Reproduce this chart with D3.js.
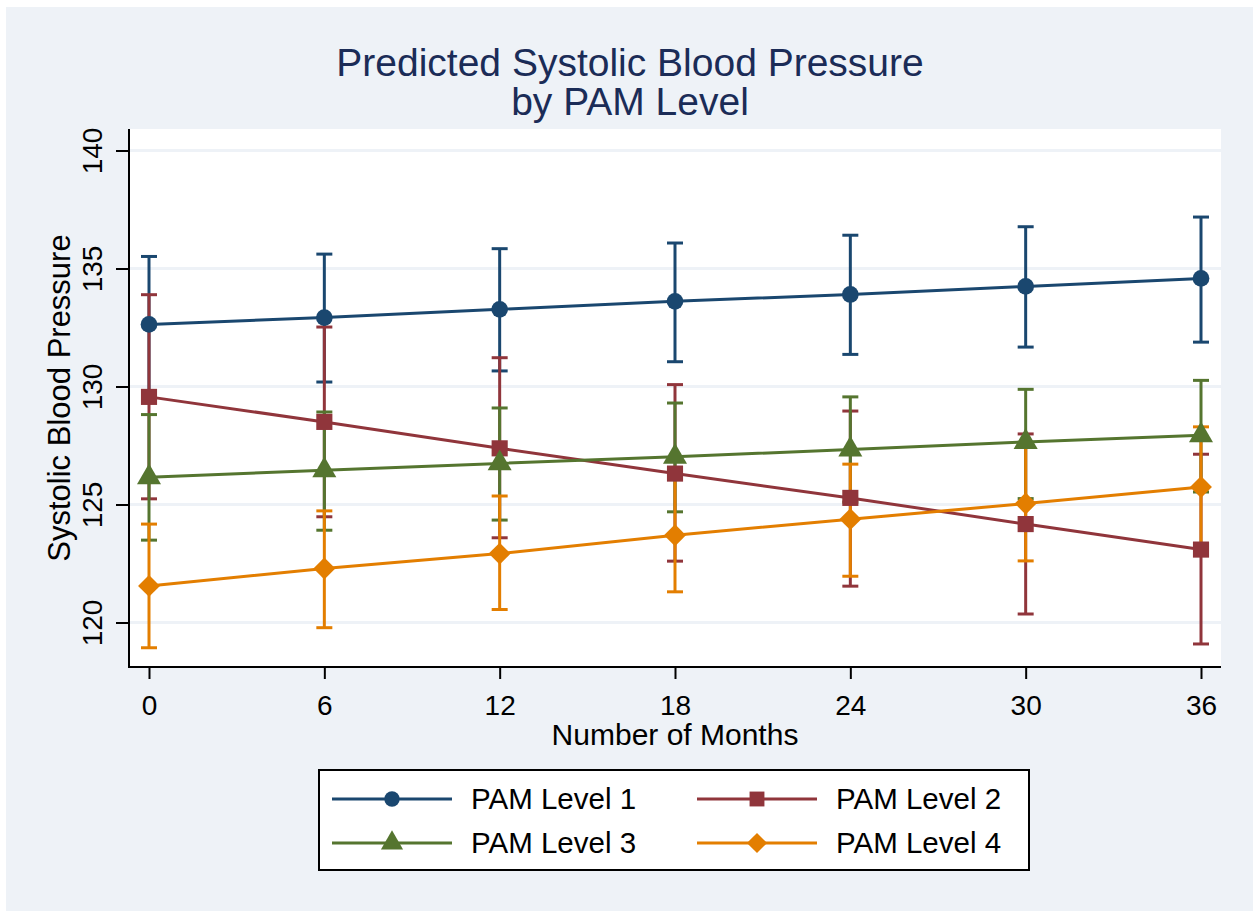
<meta charset="utf-8">
<body style="margin:0;background:#fff">
<script src="https://d3js.org/d3.v7.min.js"></script>
<script>

var outerWidth  = 1253,
    outerHeight = 911;

var months = [0, 6, 12, 18, 24, 30, 36];
var yTicks = [120, 125, 130, 135, 140];
var levelNames = ["PAM Level 1", "PAM Level 2", "PAM Level 3", "PAM Level 4"];

var level1Mean = [132.63, 132.92, 133.27, 133.61, 133.90, 134.24, 134.58];
var level1Lo   = [129.75, 130.19, 130.66, 131.05, 131.36, 131.67, 131.88];
var level1Hi   = [135.51, 135.61, 135.84, 136.08, 136.41, 136.77, 137.18];

var level2Mean = [129.56, 128.50, 127.38, 126.31, 125.28, 124.17, 123.09];
var level2Lo   = [125.24, 124.48, 123.59, 122.60, 121.54, 120.36, 119.09];
var level2Hi   = [133.89, 132.52, 131.22, 130.08, 128.96, 127.99, 127.13];

var level3Mean = [126.15, 126.45, 126.74, 127.02, 127.33, 127.65, 127.93];
var level3Lo   = [123.49, 123.91, 124.34, 124.69, 125.10, 125.25, 125.53];
var level3Hi   = [128.81, 128.92, 129.09, 129.30, 129.56, 129.88, 130.26];

var level4Mean = [121.55, 122.29, 122.92, 123.70, 124.38, 125.04, 125.74];
var level4Lo   = [118.93, 119.78, 120.55, 121.30, 121.96, 122.61, 123.19];
var level4Hi   = [124.17, 124.73, 125.36, 126.10, 126.71, 127.47, 128.29];

// square diamond, as wide as it is tall
var symbolRhombus = {
    draw: function (context, size) {
        var r = Math.sqrt(size / 2);
        context.moveTo(0, -r);
        context.lineTo(r, 0);
        context.lineTo(0, r);
        context.lineTo(-r, 0);
        context.closePath();
    }
};

var colors  = ["#1a476f", "#90353b", "#55752f", "#e37e00"];
var symbols = [d3.symbolCircle, d3.symbolSquare, d3.symbolTriangle, symbolRhombus];
var symSize = [220, 260, 250, 240];

var series = [
    {mean: level1Mean, lo: level1Lo, hi: level1Hi},
    {mean: level2Mean, lo: level2Lo, hi: level2Hi},
    {mean: level3Mean, lo: level3Lo, hi: level3Hi},
    {mean: level4Mean, lo: level4Lo, hi: level4Hi}
];
series.forEach(function (s, i) {
    s.name = levelNames[i];
    s.color = colors[i];
    s.symbol = symbols[i];
    s.size = symSize[i];
    s.points = months.map(function (m, j) {
        return {x: m, y: s.mean[j], lo: s.lo[j], hi: s.hi[j]};
    });
});

var bg = "#eef2f7";
var font = "'Liberation Sans', Arial, sans-serif";

var plot = {left: 129, top: 129, right: 1221, bottom: 667};

var svg = d3.select("body")
            .append("svg")
            .attr("width", outerWidth)
            .attr("height", outerHeight)
            .style("display", "block")
            .style("font-family", font);

svg.append("rect")
   .attr("x", 6).attr("y", 7)
   .attr("width", outerWidth - 6).attr("height", outerHeight - 7)
   .attr("fill", bg);

svg.append("rect")
   .attr("x", plot.left).attr("y", plot.top)
   .attr("width", plot.right - plot.left).attr("height", plot.bottom - plot.top)
   .attr("fill", "#fff");

var x = d3.scaleLinear().domain([0, 36]).range([plot.left + 20, plot.right - 20]);
var y = d3.scaleLinear().domain([120, 140]).range([plot.bottom - 44.5, plot.top + 21.5]);

// grid
svg.append("g")
   .selectAll("line")
   .data(yTicks)
   .enter()
   .append("line")
   .attr("x1", plot.left).attr("x2", plot.right)
   .attr("y1", function (d) { return y(d); })
   .attr("y2", function (d) { return y(d); })
   .attr("stroke", bg)
   .attr("stroke-width", 3);

// title
var title = svg.append("text")
               .attr("text-anchor", "middle")
               .attr("fill", "#1b2c57")
               .style("font-size", "39px");
title.append("tspan").attr("x", 630).attr("y", 76).text("Predicted Systolic Blood Pressure");
title.append("tspan").attr("x", 630).attr("y", 115).text("by PAM Level");

// axes
var yAxis = svg.append("g")
               .attr("transform", "translate(" + plot.left + ",0)")
               .call(d3.axisLeft(y).tickValues(yTicks).tickSize(13).tickSizeOuter(0));
yAxis.select(".domain").remove();
yAxis.selectAll(".tick line").attr("stroke", "#000").attr("stroke-width", 2);
yAxis.selectAll(".tick text")
     .attr("x", null).attr("dy", null)
     .attr("transform", "translate(-27,0) rotate(-90)")
     .attr("text-anchor", "middle")
     .attr("fill", "#000")
     .style("font-size", "28px")
     .style("font-family", font);

var xAxis = svg.append("g")
               .attr("transform", "translate(0," + plot.bottom + ")")
               .call(d3.axisBottom(x).tickValues(months).tickSize(12).tickPadding(16).tickSizeOuter(0));
xAxis.select(".domain").remove();
xAxis.selectAll(".tick line").attr("stroke", "#000").attr("stroke-width", 2);
xAxis.selectAll(".tick text")
     .attr("fill", "#000")
     .style("font-size", "28px")
     .style("font-family", font);

svg.append("line")
   .attr("x1", plot.left).attr("x2", plot.left)
   .attr("y1", plot.top).attr("y2", plot.bottom + 1)
   .attr("stroke", "#000").attr("stroke-width", 2);
svg.append("line")
   .attr("x1", plot.left - 1).attr("x2", plot.right)
   .attr("y1", plot.bottom).attr("y2", plot.bottom)
   .attr("stroke", "#000").attr("stroke-width", 2);

svg.append("text")
   .attr("transform", "translate(70," + ((plot.top + plot.bottom) / 2) + ") rotate(-90)")
   .attr("text-anchor", "middle")
   .style("font-size", "31px")
   .text("Systolic Blood Pressure");

svg.append("text")
   .attr("x", (plot.left + plot.right) / 2)
   .attr("y", 745)
   .attr("text-anchor", "middle")
   .style("font-size", "30px")
   .text("Number of Months");

// error bars, all series first
var capHalf = 8;
series.forEach(function (s) {
    var g = svg.append("g")
               .attr("stroke", s.color)
               .attr("stroke-width", 3)
               .attr("fill", "none");
    var bars = g.selectAll("g").data(s.points).enter().append("g");
    bars.append("line")
        .attr("x1", function (d) { return x(d.x); })
        .attr("x2", function (d) { return x(d.x); })
        .attr("y1", function (d) { return y(d.lo); })
        .attr("y2", function (d) { return y(d.hi); });
    bars.append("line")
        .attr("x1", function (d) { return x(d.x) - capHalf; })
        .attr("x2", function (d) { return x(d.x) + capHalf; })
        .attr("y1", function (d) { return y(d.hi); })
        .attr("y2", function (d) { return y(d.hi); });
    bars.append("line")
        .attr("x1", function (d) { return x(d.x) - capHalf; })
        .attr("x2", function (d) { return x(d.x) + capHalf; })
        .attr("y1", function (d) { return y(d.lo); })
        .attr("y2", function (d) { return y(d.lo); });
});

// connected lines with markers
var line = d3.line()
             .x(function (d) { return x(d.x); })
             .y(function (d) { return y(d.y); });

series.forEach(function (s) {
    svg.append("path")
       .datum(s.points)
       .attr("d", line)
       .attr("fill", "none")
       .attr("stroke", s.color)
       .attr("stroke-width", 3);
    svg.append("g")
       .selectAll("path")
       .data(s.points)
       .enter()
       .append("path")
       .attr("d", d3.symbol().type(s.symbol).size(s.size))
       .attr("transform", function (d) { return "translate(" + x(d.x) + "," + y(d.y) + ")"; })
       .attr("fill", s.color);
});

// legend
svg.append("rect")
   .attr("x", 319).attr("y", 770)
   .attr("width", 710).attr("height", 100)
   .attr("fill", "#fff")
   .attr("stroke", "#000")
   .attr("stroke-width", 2);

var legendCols = [332, 697],
    legendRows = [799, 843];

var items = svg.selectAll(".legend")
               .data(series)
               .enter()
               .append("g")
               .attr("class", "legend")
               .attr("transform", function (d, i) {
                   return "translate(" + legendCols[i % 2] + "," + legendRows[Math.floor(i / 2)] + ")";
               });

items.append("line")
     .attr("x1", 0).attr("x2", 120)
     .attr("stroke", function (d) { return d.color; })
     .attr("stroke-width", 3);

items.append("path")
     .attr("d", function (d) { return d3.symbol().type(d.symbol).size(d.size * 0.85)(); })
     .attr("transform", "translate(60,0)")
     .attr("fill", function (d) { return d.color; });

items.append("text")
     .attr("x", 139)
     .attr("y", 10)
     .style("font-size", "29.5px")
     .text(function (d) { return d.name; });

</script>
</body>
